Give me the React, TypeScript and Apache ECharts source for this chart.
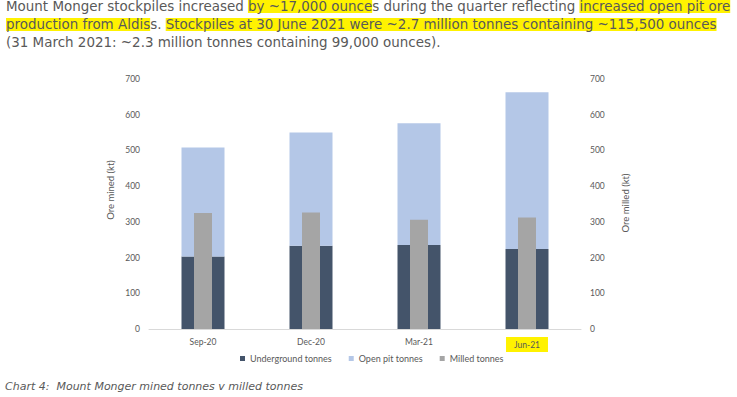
import React, { useEffect, useRef } from "react";
import * as echarts from "echarts";

const categories = ["Sep-20", "Dec-20", "Mar-21", "Jun-21"];
const undergroundTonnes = [203, 233, 235, 224];
const openPitTonnes = [305, 317, 341, 439];
const milledTonnes = [325, 326, 306, 312];
const highlightedCategory = "Jun-21";

const paragraphLines: [string, boolean][][] = [
  [
    ["Mount Monger stockpiles increased ", false],
    ["by ~17,000 ounce", true],
    ["s during the quarter reflecting ", false],
    ["increased open pit ore", true],
  ],
  [
    ["production from Aldis", true],
    ["s. ", false],
    ["Stockpiles at 30 June 2021 were ~2.7 million tonnes containing ~115,500 ounces", true],
  ],
  [["(31 March 2021: ~2.3 million tonnes containing 99,000 ounces).", false]],
];
const caption = "Chart 4:  Mount Monger mined tonnes v milled tonnes";
const leftAxisTitle = "Ore mined (kt)";
const rightAxisTitle = "Ore milled (kt)";

const YELLOW = "#FFF200";
const TEXT = "#595959";
const PARA_FONT = "'DejaVu Sans', sans-serif";
const CHART_FONT = "Lato, 'Open Sans', sans-serif";

export default function App() {
  const ref = useRef<HTMLDivElement>(null);
  useEffect(() => {
    if (!ref.current) return;
    const chart = echarts.init(ref.current, undefined, { renderer: "svg" });

    const paraGraphics = paragraphLines.map((segs, i) => ({
      type: "text",
      left: 6,
      top: 0 + i * 18,
      style: {
        text: segs.map(([t, h]) => `{${h ? "h" : "n"}|${t}}`).join(""),
        rich: {
          n: { fontSize: 13.45, fontFamily: PARA_FONT, fill: TEXT, lineHeight: 18 },
          h: {
            fontSize: 13.45,
            fontFamily: PARA_FONT,
            fill: TEXT,
            lineHeight: 18,
            backgroundColor: YELLOW,
          },
        },
      },
    }));

    const option: any = {
      animation: false,
      textStyle: { fontFamily: CHART_FONT },
      grid: { left: 149, right: 156, top: 79, bottom: 68 },
      legend: {
        bottom: 29,
        left: 235,
        itemWidth: 5,
        itemHeight: 5,
        itemGap: 17,
        icon: "rect",
        textStyle: { fontSize: 9, color: TEXT, fontFamily: CHART_FONT },
        data: ["Underground tonnes", "Open pit tonnes", "Milled tonnes"],
      },
      xAxis: [
        {
          type: "category",
          data: categories,
          axisLine: { lineStyle: { color: "#D9D9D9" } },
          axisTick: { show: false },
          axisLabel: {
            fontSize: 8.5,
            color: TEXT,
            margin: 8,
            formatter: (v: string) => (v === highlightedCategory ? `{hl|${v}}` : v),
            rich: {
              hl: {
                fontSize: 8.5,
                color: TEXT,
                backgroundColor: YELLOW,
                padding: [3, 8, 3, 8],
              },
            },
          },
        },
        {
          type: "category",
          data: categories,
          show: false,
        },
      ],
      yAxis: [
        {
          type: "value",
          min: 0,
          max: 700,
          interval: 100,
          axisLine: { show: false },
          axisTick: { show: false },
          splitLine: { show: false },
          axisLabel: { fontSize: 8.5, color: TEXT, margin: 9 },
        },
        {
          type: "value",
          min: 0,
          max: 700,
          interval: 100,
          position: "right",
          axisLine: { show: false },
          axisTick: { show: false },
          splitLine: { show: false },
          axisLabel: { fontSize: 8.5, color: TEXT, margin: 9 },
        },
      ],
      series: [
        {
          name: "Underground tonnes",
          type: "bar",
          stack: "mined",
          xAxisIndex: 0,
          yAxisIndex: 0,
          barWidth: 43,
          data: undergroundTonnes,
          itemStyle: { color: "#44546A" },
        },
        {
          name: "Open pit tonnes",
          type: "bar",
          stack: "mined",
          xAxisIndex: 0,
          yAxisIndex: 0,
          barWidth: 43,
          data: openPitTonnes,
          itemStyle: { color: "#B4C7E7" },
        },
        {
          name: "Milled tonnes",
          type: "bar",
          xAxisIndex: 1,
          yAxisIndex: 1,
          barWidth: 18,
          data: milledTonnes,
          itemStyle: { color: "#A5A5A5" },
        },
      ],
      graphic: [
        ...paraGraphics,
        {
          type: "text",
          x: 110,
          y: 190,
          rotation: Math.PI / 2,
          style: {
            text: leftAxisTitle,
            fontSize: 9.5,
            fontFamily: CHART_FONT,
            fill: TEXT,
            align: "center",
            verticalAlign: "middle",
          },
        },
        {
          type: "text",
          x: 625,
          y: 203,
          rotation: Math.PI / 2,
          style: {
            text: rightAxisTitle,
            fontSize: 9.5,
            fontFamily: CHART_FONT,
            fill: TEXT,
            align: "center",
            verticalAlign: "middle",
          },
        },
        {
          type: "text",
          left: 5,
          top: 381,
          style: {
            text: caption,
            fontSize: 11,
            fontStyle: "italic",
            fontFamily: PARA_FONT,
            fill: TEXT,
          },
        },
      ],
    };
    chart.setOption(option);
    return () => chart.dispose();
  }, []);
  return (
    <div
      ref={ref}
      style={{ position: "fixed", left: 0, top: 0, width: 737, height: 397, background: "#fff" }}
    />
  );
}
